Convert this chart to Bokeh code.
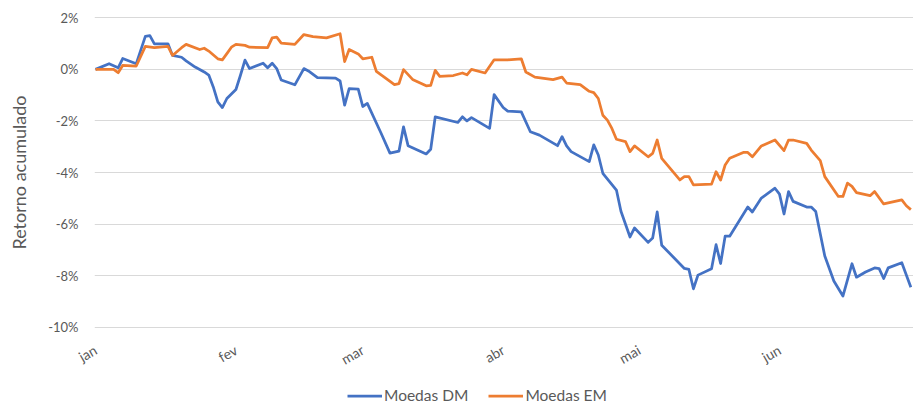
import math
import pandas as pd
from bokeh.plotting import figure
from bokeh.layouts import column
from bokeh.models import (Range1d, FixedTicker, PrintfTickFormatter,
                          CustomJSTickFormatter, Legend, LegendItem)
from bokeh.embed import file_html
from bokeh.resources import INLINE

# ---- data (cumulative return, %) ----
datas_dm = [
    "2022-01-01", "2022-01-04", "2022-01-06", "2022-01-07", "2022-01-10", "2022-01-12", "2022-01-13",
    "2022-01-14", "2022-01-17", "2022-01-18", "2022-01-20", "2022-01-21", "2022-01-23", "2022-01-25",
    "2022-01-26", "2022-01-27", "2022-01-28", "2022-01-29", "2022-01-30",
    "2022-02-01", "2022-02-02", "2022-02-03", "2022-02-04", "2022-02-07", "2022-02-08", "2022-02-09",
    "2022-02-10", "2022-02-11", "2022-02-14", "2022-02-16", "2022-02-17", "2022-02-19", "2022-02-23",
    "2022-02-24", "2022-02-25", "2022-02-26", "2022-02-28",
    "2022-03-01", "2022-03-02", "2022-03-05", "2022-03-07", "2022-03-09", "2022-03-10", "2022-03-11",
    "2022-03-15", "2022-03-16", "2022-03-17", "2022-03-22", "2022-03-23", "2022-03-24", "2022-03-25",
    "2022-03-29", "2022-03-30",
    "2022-04-01", "2022-04-02", "2022-04-05", "2022-04-07", "2022-04-09", "2022-04-13", "2022-04-14",
    "2022-04-15", "2022-04-16", "2022-04-20", "2022-04-21", "2022-04-22", "2022-04-23", "2022-04-26",
    "2022-04-27", "2022-04-29", "2022-04-30",
    "2022-05-03", "2022-05-04", "2022-05-05", "2022-05-06", "2022-05-11", "2022-05-12", "2022-05-13",
    "2022-05-14", "2022-05-17", "2022-05-18", "2022-05-19", "2022-05-20", "2022-05-21", "2022-05-25",
    "2022-05-26", "2022-05-28", "2022-05-31",
    "2022-06-01", "2022-06-02", "2022-06-03", "2022-06-04", "2022-06-07", "2022-06-08", "2022-06-09",
    "2022-06-11", "2022-06-13", "2022-06-15", "2022-06-17", "2022-06-18", "2022-06-20", "2022-06-22",
    "2022-06-23", "2022-06-24", "2022-06-25", "2022-06-28", "2022-06-30",
]
retorno_dm = [
    0.00, 0.22, 0.06, 0.42, 0.22, 1.28, 1.31, 0.99, 0.99, 0.54, 0.47, 0.33, 0.09, -0.10,
    -0.22, -0.68, -1.26, -1.48, -1.13,
    -0.78, -0.23, 0.36, 0.03, 0.24, 0.06, 0.24, 0.03, -0.41, -0.60, 0.03, -0.06, -0.32, -0.34,
    -0.45, -1.39, -0.75, -0.77,
    -1.44, -1.32, -2.46, -3.25, -3.17, -2.23, -2.96, -3.28, -3.10, -1.84, -2.06, -1.84, -2.00, -1.87,
    -2.29, -0.98,
    -1.48, -1.62, -1.65, -2.42, -2.55, -2.96, -2.61, -2.97, -3.19, -3.58, -2.93, -3.32, -4.03, -4.68,
    -5.50, -6.50, -6.15,
    -6.71, -6.54, -5.53, -6.82, -7.72, -7.76, -8.51, -7.98, -7.73, -6.80, -7.53, -6.47, -6.47, -5.34,
    -5.53, -4.99, -4.61,
    -4.84, -5.61, -4.74, -5.12, -5.34, -5.34, -5.51, -7.24, -8.21, -8.79, -7.54, -8.06, -7.86, -7.70,
    -7.73, -8.11, -7.70, -7.50, -8.45,
]

datas_em = [
    "2022-01-01", "2022-01-05", "2022-01-06", "2022-01-07", "2022-01-10", "2022-01-12", "2022-01-14",
    "2022-01-17", "2022-01-18", "2022-01-20", "2022-01-21", "2022-01-24", "2022-01-25", "2022-01-26",
    "2022-01-28", "2022-01-29", "2022-01-30", "2022-01-31",
    "2022-02-01", "2022-02-03", "2022-02-04", "2022-02-08", "2022-02-09", "2022-02-10", "2022-02-11",
    "2022-02-14", "2022-02-16", "2022-02-18", "2022-02-21", "2022-02-24", "2022-02-25", "2022-02-26",
    "2022-02-28",
    "2022-03-01", "2022-03-03", "2022-03-04", "2022-03-08", "2022-03-09", "2022-03-10", "2022-03-12",
    "2022-03-15", "2022-03-16", "2022-03-17", "2022-03-18", "2022-03-21", "2022-03-23", "2022-03-24",
    "2022-03-25", "2022-03-28", "2022-03-30",
    "2022-04-02", "2022-04-05", "2022-04-06", "2022-04-08", "2022-04-12", "2022-04-14", "2022-04-15",
    "2022-04-18", "2022-04-20", "2022-04-21", "2022-04-22", "2022-04-23", "2022-04-24", "2022-04-25",
    "2022-04-26", "2022-04-28", "2022-04-29", "2022-04-30",
    "2022-05-03", "2022-05-04", "2022-05-05", "2022-05-06", "2022-05-10", "2022-05-11", "2022-05-12",
    "2022-05-13", "2022-05-17", "2022-05-18", "2022-05-19", "2022-05-20", "2022-05-21", "2022-05-24",
    "2022-05-25", "2022-05-26", "2022-05-28", "2022-05-31",
    "2022-06-02", "2022-06-03", "2022-06-04", "2022-06-07", "2022-06-08", "2022-06-10", "2022-06-11",
    "2022-06-14", "2022-06-15", "2022-06-16", "2022-06-17", "2022-06-18", "2022-06-21", "2022-06-22",
    "2022-06-24", "2022-06-28", "2022-06-29", "2022-06-30",
]
retorno_em = [
    0.00, 0.00, -0.13, 0.15, 0.13, 0.89, 0.84, 0.89, 0.54, 0.84, 0.97, 0.77, 0.82, 0.71,
    0.41, 0.37, 0.61, 0.86,
    0.97, 0.93, 0.86, 0.84, 1.22, 1.25, 1.02, 0.97, 1.35, 1.27, 1.22, 1.38, 0.30, 0.77,
    0.60,
    0.41, 0.47, -0.08, -0.59, -0.55, -0.01, -0.39, -0.64, -0.62, -0.04, -0.27, -0.24, -0.14, -0.21,
    0.00, -0.14, 0.37,
    0.37, 0.41, -0.10, -0.30, -0.40, -0.30, -0.53, -0.59, -0.85, -0.90, -1.13, -1.78, -1.97, -2.29,
    -2.71, -2.80, -3.19, -2.97,
    -3.39, -3.26, -2.74, -3.45, -4.29, -4.16, -4.16, -4.48, -4.45, -3.97, -4.29, -3.71, -3.45, -3.22,
    -3.22, -3.39, -2.97, -2.74,
    -3.15, -2.74, -2.74, -2.87, -3.13, -3.54, -4.16, -4.93, -4.93, -4.41, -4.54, -4.78, -4.90, -4.74,
    -5.22, -5.06, -5.29, -5.44,
]

meses = ["jan", "fev", "mar", "abr", "mai", "jun"]
inicio_meses = ["2022-01-01", "2022-02-01", "2022-03-01", "2022-04-01", "2022-05-01", "2022-06-01"]
y_ticks = [2, 0, -2, -4, -6, -8, -10]

series = ["Moedas DM", "Moedas EM"]
cores = ["#4472C4", "#ED7D31"]

TXT = "#595959"
FONT = "Lato"

# ---------------- main chart ----------------
p = figure(width=913, height=378, output_backend="svg", toolbar_location=None,
           x_axis_type="datetime",
           x_range=Range1d(pd.Timestamp("2021-12-31 18:40"), pd.Timestamp("2022-06-30 14:00")),
           y_range=Range1d(-10.05, 2.05),
           min_border_left=94, min_border_right=0, min_border_top=16, min_border_bottom=49)
p.outline_line_color = None
p.background_fill_color = "white"
p.border_fill_color = "white"

r_dm = p.line(pd.to_datetime(datas_dm), retorno_dm, line_color=cores[0], line_width=2.75,
              line_join="round")
r_em = p.line(pd.to_datetime(datas_em), retorno_em, line_color=cores[1], line_width=2.75,
              line_join="round")

# y axis
p.yaxis.ticker = FixedTicker(ticks=y_ticks)
p.yaxis.formatter = PrintfTickFormatter(format="%d%%")
p.yaxis.axis_line_color = None
p.yaxis.major_tick_line_color = None
p.yaxis.minor_tick_line_color = None
p.yaxis.major_tick_out = 0
p.yaxis.major_label_standoff = 16
p.yaxis.major_label_text_color = TXT
p.yaxis.major_label_text_font = FONT
p.yaxis.major_label_text_font_size = "13px"
p.yaxis.axis_label = "Retorno acumulado"
p.yaxis.axis_label_text_font_style = "normal"
p.yaxis.axis_label_text_color = TXT
p.yaxis.axis_label_text_font = FONT
p.yaxis.axis_label_text_font_size = "18px"
p.yaxis.axis_label_standoff = 15

p.ygrid.ticker = FixedTicker(ticks=y_ticks)
p.ygrid.grid_line_color = "#d9d9d9"
p.ygrid.grid_line_width = 1
p.xgrid.grid_line_color = None

# x axis
tick_ms = [pd.Timestamp(s).value / 1e6 for s in inicio_meses]
p.xaxis.ticker = FixedTicker(ticks=tick_ms)
p.xaxis.formatter = CustomJSTickFormatter(args=dict(nomes=meses),
                                          code="return nomes[new Date(tick).getUTCMonth()];")
p.xaxis.major_label_orientation = math.pi / 6
p.xaxis.axis_line_color = None
p.xaxis.major_tick_line_color = None
p.xaxis.minor_tick_line_color = None
p.xaxis.major_tick_out = 0
p.xaxis.major_label_standoff = 20
p.xaxis.major_label_text_color = TXT
p.xaxis.major_label_text_font = FONT
p.xaxis.major_label_text_font_size = "14px"

# ---------------- legend strip ----------------
pl = figure(width=913, height=27, output_backend="svg", toolbar_location=None,
            x_axis_location=None, y_axis_location=None,
            x_range=Range1d(0, 1), y_range=Range1d(0, 1),
            min_border_left=0, min_border_right=0, min_border_top=0, min_border_bottom=0)
pl.outline_line_color = None
pl.grid.visible = False
# legend keys only (no visible data)
k_dm = pl.line(x=[math.nan], y=[math.nan], line_color=cores[0], line_width=2.75)
k_em = pl.line(x=[math.nan], y=[math.nan], line_color=cores[1], line_width=2.75)

legend = Legend(items=[LegendItem(label=series[0], renderers=[k_dm]),
                       LegendItem(label=series[1], renderers=[k_em])],
                orientation="horizontal", location=(253, 1),
                border_line_color=None, background_fill_alpha=0,
                padding=0, margin=0, spacing=20, glyph_width=35, glyph_height=17,
                label_standoff=2, label_text_font=FONT, label_text_font_size="15.5px",
                label_text_color=TXT, label_height=17)
pl.add_layout(legend)

layout = column(p, pl, spacing=0)
open("out.html", "w").write(file_html(layout, INLINE))
